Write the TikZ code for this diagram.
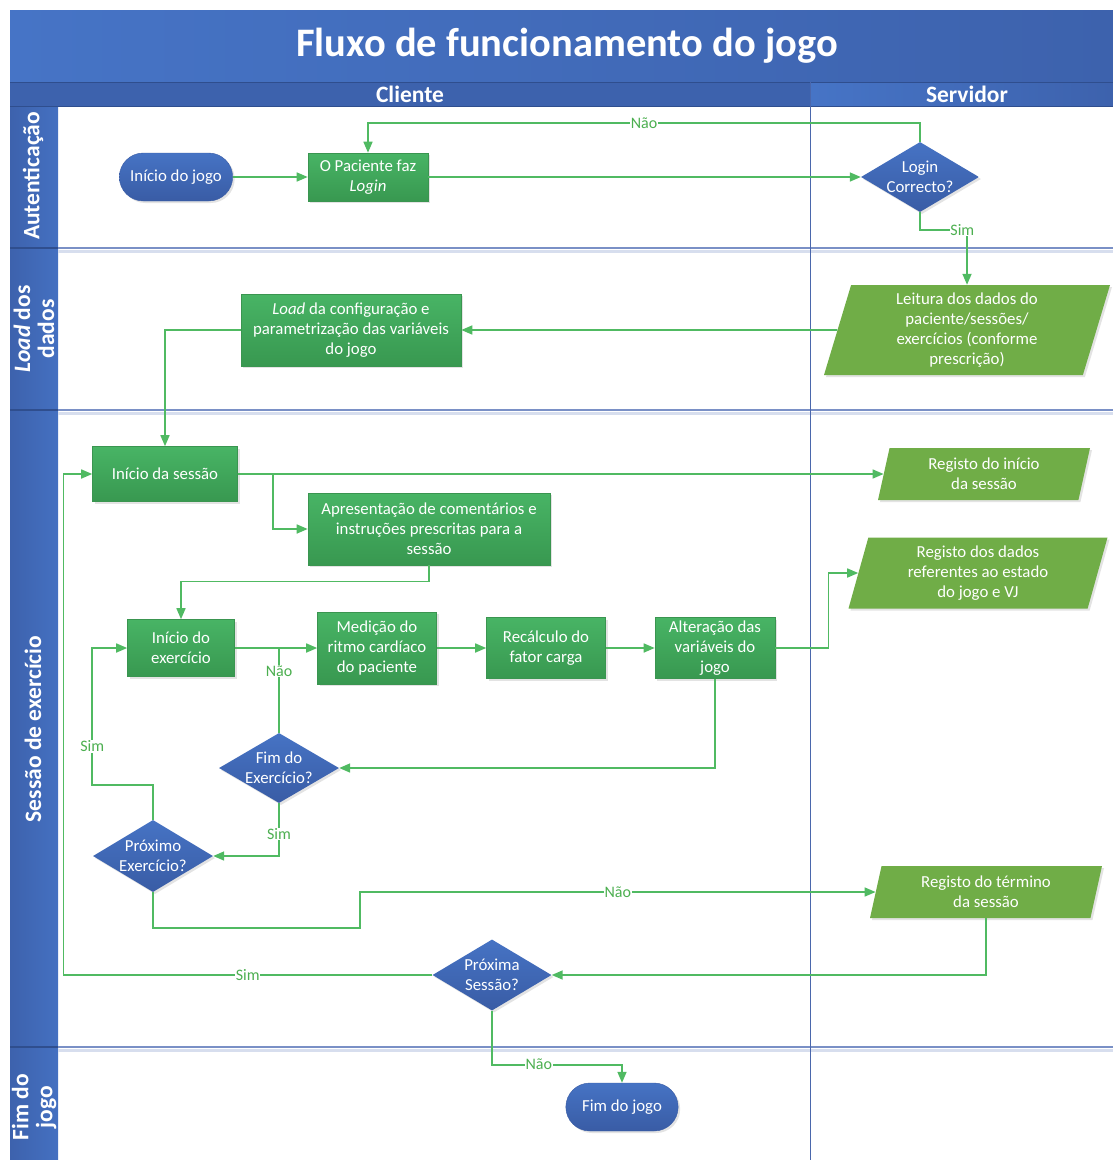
\documentclass[tikz,border=0pt]{standalone}
\usepackage{fontspec}
\setmainfont{Carlito}
\usetikzlibrary{
    shapes.geometric, shapes.misc,
    arrows.meta, shadows, calc
}
\definecolor{lanebg}{HTML}{3D62AD}
\definecolor{lanelt}{HTML}{4674C6}
\definecolor{lanedk}{HTML}{2F4E8E}
\definecolor{laneline}{HTML}{7A90C6}
\definecolor{colline}{HTML}{4A67AC}
\definecolor{procT}{HTML}{48B465}
\definecolor{procB}{HTML}{389850}
\definecolor{procedge}{HTML}{3A9550}
\definecolor{iogreen}{HTML}{70AD47}
\definecolor{decT}{HTML}{4673C4}
\definecolor{decB}{HTML}{395CA5}
\definecolor{flowgreen}{HTML}{50BA62}
\definecolor{lblgreen}{HTML}{4CAF50}
\tikzset{
  boxfont/.style={font=\fontsize{16.8}{20}\selectfont},
  softshadow/.style={drop shadow={shadow xshift=2pt, shadow yshift=-2pt,
                     opacity=0.22}},
  proc/.style={rectangle, draw=procedge, line width=0.6pt,
               top color=procT, bottom color=procB, text=white,
               align=center, boxfont, inner sep=1pt, softshadow},
  io/.style={trapezium, trapezium left angle=70, trapezium right angle=110,
             trapezium stretches body, fill=iogreen, text=white,
             align=center, boxfont, inner sep=0pt, softshadow},
  decision/.style={diamond, top color=decT, bottom color=decB,
                   inner sep=0pt, softshadow},
  dtext/.style={text=white, align=center,
                font=\fontsize{16.8}{20}\selectfont},
  term/.style={rounded rectangle, top color=decT, bottom color=decB,
               draw=decB, text=white, boxfont, softshadow},
  flow/.style={-{Triangle[length=11pt,width=9pt]}, draw=flowgreen,
               line width=1.6pt},
  joinline/.style={draw=flowgreen, line width=1.6pt},
  lbl/.style={fill=white, text=lblgreen, inner sep=0.5pt,
              font=\fontsize{16}{18}\selectfont},
  lanetxt/.style={rotate=90, text=white, align=center,
                  font=\fontsize{23.5}{24}\selectfont\bfseries},
  hdrtxt/.style={text=white, font=\fontsize{23.5}{26}\selectfont\bfseries},
}

\begin{document}
\begin{tikzpicture}[x=1pt, y=-1pt]
  \useasboundingbox (0,0) rectangle (1113,1160);
  \fill[white] (0,0) rectangle (1113,1160);

  % title bar, pool headers and lane column
  \fill[left color=lanelt, right color=lanebg] (10,10) rectangle (1113,82);
  \fill[lanebg] (10,82) rectangle (1113,106);
  \fill[left color=lanelt, right color=lanebg] (810,82) rectangle (1113,106);
  \fill[left color=lanebg, right color=lanelt!80!lanebg] (10,106) rectangle (58,1160);
  \draw[lanedk, line width=0.8pt] (10,82) -- (1113,82) (10,106) -- (1113,106);
  \foreach \yy in {248,410,1047} {
    \draw[laneline!30, line width=3pt] (58,\yy+3) -- (1113,\yy+3);
    \draw[laneline, line width=2pt] (58,\yy) -- (1113,\yy);
    \draw[lanedk, line width=1.5pt] (10,\yy) -- (58,\yy);
  }
  \draw[colline, line width=0.9pt] (810,82) -- (810,1160);

  \node[text=white, font=\fontsize{40.5}{46}\selectfont\bfseries] (title) at (567,46) {Fluxo de funcionamento do jogo};
  \node[hdrtxt] (cliente) at (410,94) {Cliente};
  \node[hdrtxt] (servidor) at (967,94) {Servidor};
  \node[lanetxt] (lauth) at (33,176) {Autenticação};
  \node[lanetxt] (lload) at (34,329) {\textit{Load} dos\\dados};
  \node[lanetxt] (lsess) at (33,729) {Sessão de exercício};
  \node[lanetxt] (lfim) at (34,1107) {Fim do\\jogo};

  % nodes
  \node[term, minimum width=120pt, minimum height=48pt] (inicio) at (176,177) {Início do jogo};
  \node[proc, minimum width=120pt, minimum height=48pt] (login) at (368,177) {O Paciente faz\\\textit{Login}};
  \node[decision, minimum width=118pt, minimum height=70pt,
        label={[dtext]center:Login\\Correcto?}] (loginok) at (920,177) {};
  \node[io, minimum width=286pt, minimum height=90pt] (leitura) at (967,330)
        {Leitura dos dados do\\paciente/sessões/\\exercícios (conforme\\prescrição)};
  \node[proc, minimum width=220pt, minimum height=72pt] (load) at (351,330)
        {\textit{Load} da configuração e\\parametrização das variáveis\\do jogo};
  \node[proc, minimum width=145pt, minimum height=55pt] (sessao) at (165,474) {Início da sessão};
  \node[io, minimum width=212pt, minimum height=52pt] (regini) at (984,474) {Registo do início\\da sessão};
  \node[proc, minimum width=242pt, minimum height=72pt] (apres) at (429,529)
        {Apresentação de comentários e\\instruções prescritas para a\\sessão};
  \node[io, minimum width=259pt, minimum height=71pt] (regdados) at (978,573)
        {Registo dos dados\\referentes ao estado\\do jogo e VJ};
  \node[proc, minimum width=107pt, minimum height=57pt] (exini) at (181,648) {Início do\\exercício};
  \node[proc, minimum width=119pt, minimum height=72pt] (medicao) at (377,648) {Medição do\\ritmo cardíaco\\do paciente};
  \node[proc, minimum width=119pt, minimum height=61pt] (recalc) at (546,648) {Recálculo do\\fator carga};
  \node[proc, minimum width=120pt, minimum height=61pt] (alter) at (715,648) {Alteração das\\variáveis do\\jogo};
  \node[decision, minimum width=120pt, minimum height=70pt,
        label={[dtext]center:Fim do\\Exercício?}] (fimex) at (279,768) {};
  \node[decision, minimum width=120pt, minimum height=72pt,
        label={[dtext]center:Próximo\\Exercício?}] (proxex) at (153,856) {};
  \node[io, minimum width=232pt, minimum height=52pt] (regterm) at (986,892) {Registo do término\\da sessão};
  \node[decision, minimum width=119pt, minimum height=71pt,
        label={[dtext]center:Próxima\\Sessão?}] (proxsess) at (492,975) {};
  \node[term, minimum width=119pt, minimum height=48pt] (fimjogo) at (622,1107) {Fim do jogo};

  % connectors
  \draw[flow] (inicio) -- (login);
  \draw[flow] (login) -- (loginok);
  \draw[flow] (loginok.north) -- ++(0,-19) -| node[lbl, pos=0.25] {Não} (login.north);
  \draw[flow] (loginok.south) -- ++(0,18) -| node[lbl, pos=0.45] {Sim} (leitura.north);
  \draw[flow] (leitura) -- (load);
  \draw[flow] (load.west) -| (sessao.north);
  \draw[flow] (sessao) -- (regini);
  \draw[flow] (sessao.east) -- ++(35,0) |- (apres.west);
  \draw[flow] (apres.south) -- ++(0,16) -| (exini.north);
  \draw[flow] (exini) -- (medicao);
  \draw[flow] (medicao) -- (recalc);
  \draw[flow] (recalc) -- (alter);
  \draw[flow] (alter.east) -- ++(53,0) |- (regdados.west);
  \draw[flow] (alter.south) |- (fimex.east);
  \draw[joinline] (fimex.north) -- node[lbl, pos=0.73] {Não} (fimex.north |- exini.east);
  \draw[flow] (fimex.south) |- node[lbl, pos=0.29] {Sim} (proxex.east);
  \draw[flow] (proxex.north) -- ++(0,-35) -| node[lbl, pos=0.64] {Sim} ([xshift=-35pt]exini.west) -- (exini.west);
  \draw[flow] (proxex.south) -- ++(0,36) -- ++(207,0) |- node[lbl, pos=0.75] {Não} (regterm.west);
  \draw[flow] (regterm.south) |- (proxsess.east);
  \draw[flow] (proxsess.west) -- node[lbl] {Sim} ++(-369,0) |- (sessao.west);
  \draw[flow] (proxsess.south) -- ++(0,54) -| node[lbl, pos=0.18] {Não} (fimjogo.north);
\end{tikzpicture}
\end{document}
